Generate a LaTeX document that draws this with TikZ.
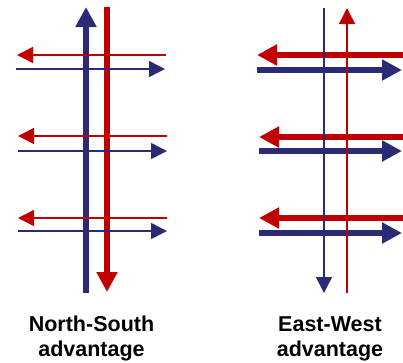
\documentclass[tikz,border=0pt]{standalone}
\usepackage{fontspec}
\setmainfont{Liberation Sans}
\usepackage{tikz}
\pgfdeclarelayer{background}
\pgfsetlayers{background,main}
\usetikzlibrary{arrows.meta}
\definecolor{navy}{RGB}{42,42,119}
\definecolor{crimson}{RGB}{192,0,0}
\tikzset{
  wide lane/.style={line width=6.5pt,-{Triangle[length=20pt,width=20pt]}},
  narrow lane/.style={line width=1.5pt,-{Triangle[length=16pt,width=16pt]}},
  caption/.style={align=center,inner sep=0pt,font=\bfseries\fontsize{21.5}{25}\selectfont}
}
\newcommand{\Pt}[2]% pos, name
{\coordinate (#2) at (#1);}
\newcommand{\Lane}[3]%
{\draw[#3] (#1) -- (#2);}
\newcommand{\WideLane}[3]%
{ \begin{pgfonlayer}{background}
    \draw[wide lane,#3] (#1) -- (#2);
  \end{pgfonlayer}}

\begin{document}
\begin{tikzpicture}[x=1pt,y=-1pt]
        \useasboundingbox (0,0) rectangle (403,362);
        % North-South
        \Pt{86,293}{nsS}  \Pt{86,7}{nsN}
        \Pt{107,7}{nsT}   \Pt{107,292}{nsB}
        \WideLane{nsS}{nsN}{navy}
        \WideLane{nsT}{nsB}{crimson}
        \Pt{166,55}{wa1}  \Pt{17,55}{wb1}
        \Pt{16,69}{ea1}   \Pt{165,69}{eb1}
        \Pt{167,136}{wa2} \Pt{18,136}{wb2}
        \Pt{18,151}{ea2}  \Pt{167,151}{eb2}
        \Pt{167,218}{wa3} \Pt{18,218}{wb3}
        \Pt{18,231}{ea3}  \Pt{167,231}{eb3}
        \Lane{wa1}{wb1}{narrow lane,crimson}
        \Lane{ea1}{eb1}{narrow lane,navy}
        \Lane{wa2}{wb2}{narrow lane,crimson}
        \Lane{ea2}{eb2}{narrow lane,navy}
        \Lane{wa3}{wb3}{narrow lane,crimson}
        \Lane{ea3}{eb3}{narrow lane,navy}
        % East-West
        \Pt{403,55}{Wa1}  \Pt{257,55}{Wb1}
        \Pt{257,70}{Ea1}  \Pt{402,70}{Eb1}
        \Pt{403,137}{Wa2} \Pt{259,137}{Wb2}
        \Pt{259,151}{Ea2} \Pt{402,151}{Eb2}
        \Pt{403,218}{Wa3} \Pt{259,218}{Wb3}
        \Pt{259,233}{Ea3} \Pt{402,233}{Eb3}
        \WideLane{Wa1}{Wb1}{crimson}
        \WideLane{Ea1}{Eb1}{navy}
        \WideLane{Wa2}{Wb2}{crimson}
        \WideLane{Ea2}{Eb2}{navy}
        \WideLane{Wa3}{Wb3}{crimson}
        \WideLane{Ea3}{Eb3}{navy}
        \Pt{324,8}{ewN}   \Pt{324,293}{ewS}
        \Pt{347,293}{ewB} \Pt{347,8}{ewT}
        \Lane{ewN}{ewS}{narrow lane,navy}
        \Lane{ewB}{ewT}{narrow lane,crimson}
        % captions
        \node[caption] (nslabel) at (91.5,338.6) {North-South\\advantage};
        \node[caption] (ewlabel) at (330,338.6) {East-West\\advantage};
      \end{tikzpicture}
\end{document}
